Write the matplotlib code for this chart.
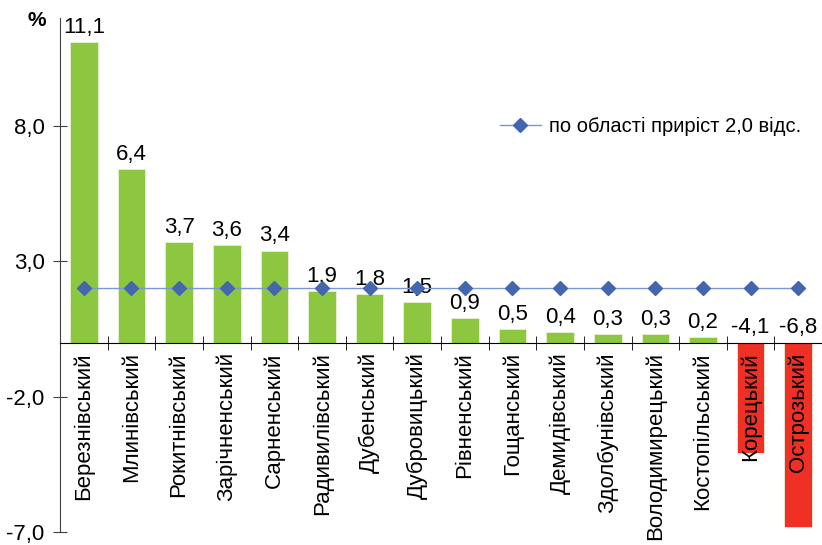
import matplotlib.pyplot as plt
import numpy as np

plt.rcParams['font.family'] = ['Liberation Sans', 'DejaVu Sans']

# --- Data ---
districts = ['Березнівський', 'Млинівський', 'Рокитнівський', 'Зарічненський',
             'Сарненський', 'Радивилівський', 'Дубенський', 'Дубровицький',
             'Рівненський', 'Гощанський', 'Демидівський', 'Здолбунівський',
             'Володимирецький', 'Костопільський', 'Корецький', 'Острозький']
growth = [11.1, 6.4, 3.7, 3.6, 3.4, 1.9, 1.8, 1.5, 0.9, 0.5, 0.4, 0.3, 0.3, 0.2, -4.1, -6.8]
region_avg = 2.0
y_ticks = [-7, -2, 3, 8]

green = '#8DC63F'
red = '#EE3124'

fig = plt.figure(figsize=(8.22, 5.45), dpi=100)
ax = fig.add_axes([0.073, 0.024, 0.927, 0.943])

x = np.arange(len(districts))
colors = [green if v >= 0 else red for v in growth]
ax.bar(x, growth, width=0.58, color=colors, edgecolor='#E8F0D8', linewidth=0.6, zorder=1)

# regional average line with diamonds
ax.plot(x, [region_avg] * len(x), color='#7A96D4', linewidth=1.0,
        marker='D', markersize=7, markerfacecolor='#4466B0', markeredgecolor='#4466B0',
        label='по області приріст 2,0 відс.', zorder=5)

# value labels
for xi, v in zip(x, growth):
    ax.annotate(f'{v:.1f}'.replace('.', ','), xy=(xi, max(v, 0)), xytext=(0, 3),
                textcoords='offset points', ha='center', va='bottom',
                fontsize=16, zorder=3)

ax.set_xlim(-0.5, 15.47)
ax.set_ylim(-7, 12)

# axes styling
for s in ['top', 'right']:
    ax.spines[s].set_visible(False)
ax.spines['left'].set_color('#404040')
ax.spines['left'].set_bounds(-7, 12)
ax.spines['bottom'].set_position(('data', 0))
ax.spines['bottom'].set_color('black')

ax.set_yticks(y_ticks)
ax.set_yticklabels([f'{t:.1f}'.replace('.', ',') for t in y_ticks], fontsize=16)
ax.tick_params(axis='y', direction='inout', length=10, color='#404040', pad=6)

ax.set_xticks(x)
ax.set_xticklabels(districts, rotation=90, fontsize=16)
ax.set_xticks(np.arange(-0.5, len(districts), 1.0), minor=True)
ax.tick_params(axis='x', which='major', length=0, pad=7)
ax.tick_params(axis='x', which='minor', direction='inout', length=10, color='black')

fig.text(0.034, 0.962, '%', fontsize=15, fontweight='bold', ha='left', va='center')

ax.legend(loc='center left', bbox_to_anchor=(0.554, 0.788), frameon=False,
          fontsize=14.5, handlelength=2.0, handletextpad=0.4)

fig.savefig('out.png', dpi=100)
